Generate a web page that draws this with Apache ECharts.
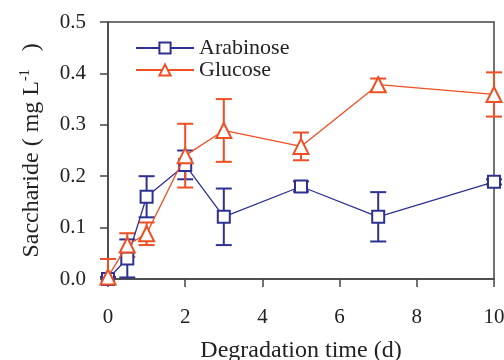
<!DOCTYPE html>
<html>
<head>
<meta charset="utf-8">
<script src="https://cdn.jsdelivr.net/npm/echarts@6/dist/echarts.min.js"></script>
<style>
  html, body { margin: 0; padding: 0; background: #fff; }
  #chart { width: 504px; height: 360px; }
</style>
</head>
<body>
<div id="chart"></div>
<script>
// degradation time in days
var days = [0, 0.5, 1, 2, 3, 5, 7, 10];

// saccharide concentration (mg L-1) and error bar half-widths
var arabinose = [0.0, 0.04, 0.16, 0.222, 0.121, 0.180, 0.121, 0.189];
var arabinoseErr = [0.004, 0.037, 0.04, 0.028, 0.055, 0.01, 0.048, 0.005];
var glucose = [0.004, 0.066, 0.088, 0.240, 0.289, 0.258, 0.378, 0.359];
var glucoseErr = [0.035, 0.023, 0.022, 0.062, 0.061, 0.027, 0.012, 0.043];

var xTicks = [0, 2, 4, 6, 8, 10];
var yTicks = [0, 0.1, 0.2, 0.3, 0.4, 0.5];

var blue = '#2e3192';
var red = '#f04e23';
var font = '"Liberation Serif", "DejaVu Serif", serif';

function pairs(xs, ys, errs) {
    return xs.map(function (x, i) { return [x, ys[i], errs[i]]; });
}

function errorBars(color) {
    return function (params, api) {
        var x = api.value(0), y = api.value(1), e = api.value(2);
        var low = y - e;
        var top = api.coord([x, y + e]);
        var bot = api.coord([x, Math.max(low, 0)]);
        var w = 8;
        var style = { stroke: color, lineWidth: 2 };
        var kids = [
            { type: 'line', shape: { x1: top[0], y1: top[1], x2: bot[0], y2: bot[1] }, style: style },
            { type: 'line', shape: { x1: top[0] - w, y1: top[1], x2: top[0] + w, y2: top[1] }, style: style }
        ];
        if (low >= 0) {
            kids.push({ type: 'line', shape: { x1: bot[0] - w, y1: bot[1], x2: bot[0] + w, y2: bot[1] }, style: style });
        }
        return { type: 'group', children: kids };
    };
}

var chart = echarts.init(document.getElementById('chart'));

var option = {
    animation: false,
    backgroundColor: '#fff',
    grid: {
        left: 108, right: 10, top: 22, bottom: 81,
        outerBoundsMode: 'none',
        show: true, borderColor: '#444', borderWidth: 1.5
    },
    legend: {
        left: 130,
        top: 32,
        orient: 'vertical',
        itemWidth: 58,
        itemHeight: 14,
        itemGap: 0,
        textStyle: { fontFamily: font, fontSize: 22, color: '#222', lineHeight: 22 },
        data: ['Arabinose', 'Glucose']
    },
    xAxis: {
        type: 'value',
        min: 0,
        max: 10,
        interval: 2,
        name: 'Degradation time (d)',
        nameLocation: 'middle',
        nameGap: 60,
        nameTextStyle: { fontFamily: font, fontSize: 24, color: '#222' },
        axisLine: { lineStyle: { color: '#444', width: 1.5 } },
        axisTick: { inside: false, length: 8, lineStyle: { color: '#444', width: 1.5 } },
        axisLabel: {
            fontFamily: font, fontSize: 21, color: '#222', margin: 28,
            formatter: function (v) { return xTicks.indexOf(v) >= 0 ? String(v) : ''; }
        },
        splitLine: { show: false }
    },
    yAxis: {
        type: 'value',
        min: 0,
        max: 0.5,
        interval: 0.1,
        name: '{a|Saccharide ( mg L}{s|-1}{a|   )}',
        nameLocation: 'middle',
        nameGap: 62,
        nameTextStyle: {
            fontFamily: font, fontSize: 24, color: '#222',
            rich: {
                a: { fontFamily: font, fontSize: 24, color: '#222', lineHeight: 28 },
                s: { fontFamily: font, fontSize: 14, color: '#222', verticalAlign: 'top', lineHeight: 28, padding: [0, 0, 12, 0] }
            }
        },
        axisLine: { show: true, lineStyle: { color: '#444', width: 1.5 } },
        axisTick: { show: true, inside: false, length: 8, lineStyle: { color: '#444', width: 1.5 } },
        axisLabel: {
            fontFamily: font, fontSize: 21, color: '#222', margin: 22,
            formatter: function (v) { return v.toFixed(1); }
        },
        splitLine: { show: false }
    },
    series: [
        {
            name: 'Arabinose',
            type: 'line',
            data: pairs(days, arabinose, arabinoseErr).map(function (p) { return [p[0], p[1]]; }),
            symbol: 'rect',
            symbolSize: 12,
            clip: false,
            z: 3,
            lineStyle: { color: blue, width: 1.3 },
            itemStyle: { color: '#fff', borderColor: blue, borderWidth: 2 }
        },
        {
            type: 'custom',
            data: pairs(days, arabinose, arabinoseErr),
            renderItem: errorBars(blue),
            clip: false,
            z: 2,
            silent: true
        },
        {
            name: 'Glucose',
            type: 'line',
            data: pairs(days, glucose, glucoseErr).map(function (p) { return [p[0], p[1]]; }),
            symbol: 'triangle',
            symbolSize: 15,
            clip: false,
            z: 4,
            lineStyle: { color: red, width: 1.3 },
            itemStyle: { color: '#fff', borderColor: red, borderWidth: 2 }
        },
        {
            type: 'custom',
            data: pairs(days, glucose, glucoseErr),
            renderItem: errorBars(red),
            clip: false,
            z: 2,
            silent: true
        }
    ]
};

chart.setOption(option);
</script>
</body>
</html>
